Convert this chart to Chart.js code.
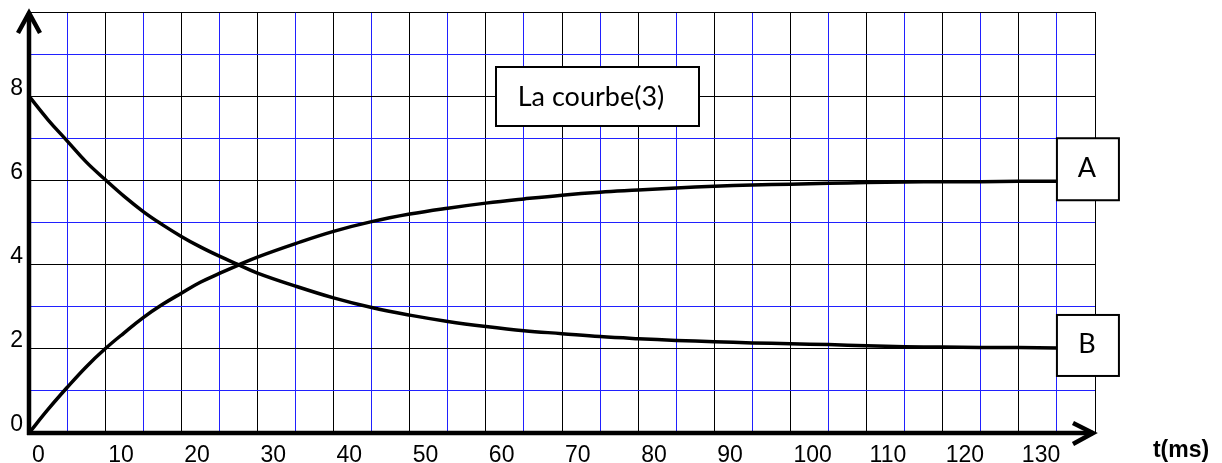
<!DOCTYPE html>
<html>
<head>
<meta charset="utf-8">
<script src="https://cdn.jsdelivr.net/npm/chart.js@4.4.0/dist/chart.umd.min.js"></script>
<style>
  body { margin: 0; background: #fff; }
  #wrap { width: 1222px; height: 463px; position: relative; }
</style>
</head>
<body>
<div id="wrap"><canvas id="courbe"></canvas></div>
<script>
// t en ms
const times = [0, 2.5, 5, 7.5, 10, 12.5, 15, 17.5, 20, 22.5, 25, 27.5, 30, 35, 40, 45, 50, 55, 60, 65, 70,
  75, 80, 85, 90, 95, 100, 105, 110, 115, 120, 125, 130, 135];
const courbeA = [0, 0.56, 1.08, 1.57, 2.0, 2.38, 2.74, 3.05, 3.32, 3.58, 3.79, 3.99, 4.18, 4.5, 4.79, 5.02, 5.2, 5.34, 5.46, 5.56, 5.65,
  5.72, 5.77, 5.82, 5.86, 5.89, 5.91, 5.93, 5.95, 5.96, 5.97, 5.97, 5.98, 5.98];
const courbeB = [8, 7.44, 6.94, 6.44, 6.02, 5.62, 5.26, 4.95, 4.67, 4.42, 4.2, 4.0, 3.8, 3.49, 3.21, 2.98, 2.8, 2.65, 2.53, 2.43, 2.36,
  2.29, 2.24, 2.2, 2.17, 2.14, 2.12, 2.1, 2.07, 2.05, 2.04, 2.03, 2.03, 2.02];
const xLabels = ["0", "10", "20", "30", "40", "50", "60", "70", "80", "90", "100", "110", "120", "130"];
const yLabels = ["0", "2", "4", "6", "8"];
const curveNames = ["A", "B"];
const titre = "La courbe(3)";
const xTitle = "t(ms)";

const BLACK = "#000";
const BLUE = "#2020ff";
const tickFont = { family: "'Liberation Sans', Arial, sans-serif", size: 23 };
const boxFont = "27px Lato, Carlito, sans-serif";

// lignes noires tous les 10 ms / 2 unités, bleues entre
const xGrid = Array.from({ length: 29 }, (_, i) => (i % 2 === 0 ? BLACK : BLUE));
const yGrid = Array.from({ length: 11 }, (_, i) => (i % 2 === 0 ? BLACK : BLUE));

function points(values) {
  return times.map((t, i) => ({ x: t, y: values[i] }));
}

function drawBox(ctx, left, top, w, h, text, cx, baseline) {
  ctx.fillStyle = "#fff";
  ctx.fillRect(left, top, w, h);
  ctx.lineWidth = 2;
  ctx.strokeStyle = BLACK;
  ctx.strokeRect(left, top, w, h);
  ctx.fillStyle = BLACK;
  ctx.font = boxFont;
  ctx.textAlign = "center";
  ctx.textBaseline = "alphabetic";
  ctx.fillText(text, cx, baseline);
}

// axes fléchés, étiquettes encadrées
const decor = {
  id: "decor",
  afterDatasetsDraw(chart) {
    const { ctx, chartArea: a, scales: { x, y } } = chart;
    ctx.save();
    ctx.strokeStyle = BLACK;
    ctx.lineWidth = 4.5;
    ctx.lineJoin = "miter";

    ctx.beginPath();
    ctx.moveTo(a.left, a.bottom + 2);
    ctx.lineTo(a.left, a.top + 1);
    ctx.stroke();
    ctx.beginPath();
    ctx.moveTo(a.left - 11, a.top + 21);
    ctx.lineTo(a.left, a.top + 1);
    ctx.lineTo(a.left + 11, a.top + 21);
    ctx.stroke();

    ctx.beginPath();
    ctx.moveTo(a.left - 2, a.bottom);
    ctx.lineTo(a.right - 2, a.bottom);
    ctx.stroke();
    ctx.beginPath();
    ctx.moveTo(a.right - 22, a.bottom - 10);
    ctx.lineTo(a.right - 2, a.bottom);
    ctx.lineTo(a.right - 22, a.bottom + 11);
    ctx.stroke();

    const last = times.length - 1;
    const bx = x.getPixelForValue(times[last]);
    const yA = y.getPixelForValue(courbeA[last]);
    const yB = y.getPixelForValue(courbeB[last]);
    drawBox(ctx, bx, yA - 43, 62, 62, curveNames[0], bx + 30, yA - 4);
    drawBox(ctx, bx, yB - 33, 62, 61, curveNames[1], bx + 30, yB + 5);

    drawBox(ctx, 496, 67, 203, 59, titre, 591, 106);

    ctx.font = "bold 23px 'Liberation Sans', Arial, sans-serif";
    ctx.textAlign = "center";
    ctx.textBaseline = "alphabetic";
    ctx.fillText(xTitle, 1181, 457);
    ctx.restore();
  }
};

new Chart(document.getElementById("courbe"), {
  type: "line",
  data: {
    datasets: [
      {
        label: curveNames[0],
        data: points(courbeA),
        borderColor: BLACK,
        borderWidth: 3.5,
        pointRadius: 0,
        tension: 0.4,
      },
      {
        label: curveNames[1],
        data: points(courbeB),
        borderColor: BLACK,
        borderWidth: 3.5,
        pointRadius: 0,
        tension: 0.4,
      },
    ],
  },
  options: {
    responsive: true,
    maintainAspectRatio: false,
    animation: false,
    layout: { padding: { top: 12, right: 127, left: 0, bottom: 0 } },
    plugins: { legend: { display: false }, tooltip: { enabled: false } },
    scales: {
      x: {
        type: "linear",
        min: 0,
        max: 140,
        afterFit: (s) => {
          s.height = 30;
          s.paddingLeft = 0;
          s.paddingRight = 0;
        },
        border: { display: false },
        grid: { drawTicks: false, lineWidth: 1, color: xGrid },
        ticks: {
          stepSize: 5,
          autoSkip: false,
          maxRotation: 0,
          align: "start",
          labelOffset: 3,
          padding: 9,
          color: BLACK,
          font: tickFont,
          callback: (v) => (xLabels.includes(String(v)) ? String(v) : ""),
        },
      },
      y: {
        min: 0,
        max: 10,
        afterFit: (s) => {
          s.width = 29;
          s.paddingTop = 0;
          s.paddingBottom = 0;
        },
        border: { display: false },
        grid: { drawTicks: false, lineWidth: 1, color: yGrid },
        ticks: {
          stepSize: 1,
          autoSkip: false,
          padding: 6,
          labelOffset: -8,
          color: BLACK,
          font: tickFont,
          callback: (v) => (yLabels.includes(String(v)) ? String(v) : ""),
        },
      },
    },
  },
  plugins: [decor],
});
</script>
</body>
</html>
